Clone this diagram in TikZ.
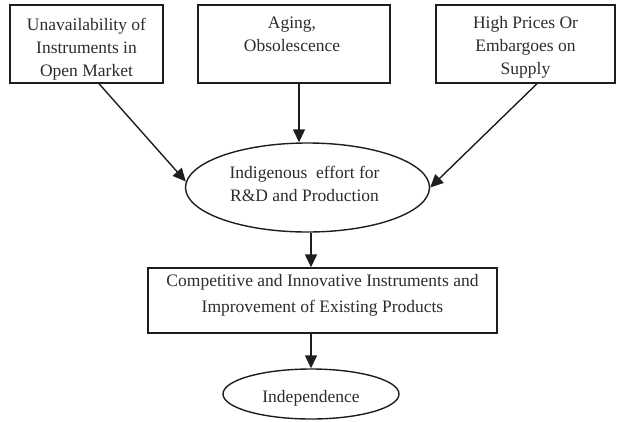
\documentclass[tikz,border=0pt]{standalone}
\usepackage{fontspec}
\setmainfont{Liberation Serif}
\usetikzlibrary{shapes.geometric,arrows.meta,calc}
\definecolor{ink}{HTML}{1E1E1E}
\definecolor{txt}{HTML}{2C2C2C}
\tikzset{
  box/.style={draw=ink, line width=1.4pt, rectangle, inner sep=0pt},
  oval/.style={draw=ink, line width=1.4pt, ellipse, inner sep=0pt},
  label/.style={inner sep=0pt, align=center, text=txt,
    font=\fontsize{17.5}{23}\selectfont},
  flow/.style={draw=ink, line width=1.4pt, -{Triangle[length=13pt,width=12pt]}}
}
\begin{document}
\begin{tikzpicture}[x=1pt,y=-1pt]
  \useasboundingbox (0,0) rectangle (618,421);
  % source boxes
  \node[box, minimum width=153pt, minimum height=78pt] (b1) at (86.5,44) {};
  \node[box, minimum width=192pt, minimum height=78pt] (b2) at (294,44) {};
  \node[box, minimum width=179pt, minimum height=78pt] (b3) at (525.5,44) {};
  \node[label] (t1) at ($(b1)+(0,5)$) {Unavailability of\\Instruments in\\Open Market};
  \node[label] (t2) at ($(b2)+(-2,-10)$) {Aging,\\Obsolescence};
  \node[label] (t3) at ($(b3)+(0,3)$) {High Prices Or\\Embargoes on\\Supply};
  % central effort
  \node[oval, minimum width=244pt, minimum height=89pt] (e1) at (307.5,187.5) {};
  \node[label] (t4) at ($(e1)+(-3,-3.5)$) {Indigenous\ \ effort for\\R\&D and Production};
  % outcome box
  \node[box, minimum width=349pt, minimum height=65pt] (b4) at (322.5,300.5) {};
  \node[label, font=\fontsize{17.5}{26}\selectfont] (t5) at ($(b4)+(0,-5)$)
    {Competitive and Innovative Instruments and\\Improvement of Existing Products};
  % final result
  \node[oval, minimum width=176pt, minimum height=50pt] (e2) at (311,394) {};
  \node[label] (t6) at ($(e2)+(0,4)$) {Independence};
  % connectors
  \coordinate (s1) at ($(b1.south)+(12.5,0)$);
  \coordinate (s2) at ($(b2.south)+(5,0)$);
  \coordinate (s3) at ($(b3.south)+(11.5,0)$);
  \draw[flow] (s1) -- ($(e1.west)+(1,-6)$);
  \draw[flow] (s2) -- (e1.north -| s2);
  \draw[flow] (s3) -- (e1.east);
  \draw[flow] (e1.south -| e2) -- (b4.north -| e2);
  \draw[flow] (b4.south -| e2) -- (e2.north);
\end{tikzpicture}
\end{document}
